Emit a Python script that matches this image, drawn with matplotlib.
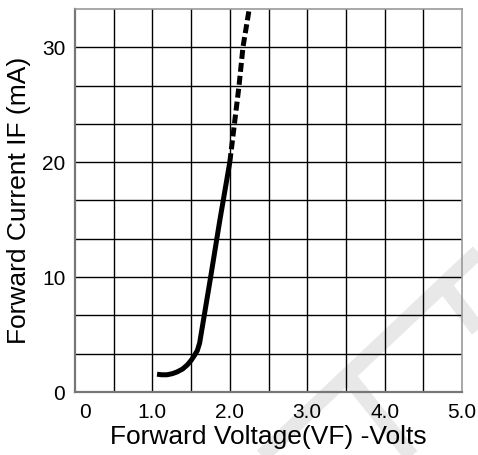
import numpy as np
import matplotlib.pyplot as plt
import matplotlib.transforms as mtransforms
from matplotlib.lines import Line2D

plt.rcParams['font.family'] = ['Liberation Sans', 'DejaVu Sans']

# forward curve (V, mA)
vf_solid = [1.06, 1.12, 1.19, 1.26, 1.32, 1.39, 1.45, 1.50, 1.54, 1.58, 1.61, 1.75, 1.87, 2.0]
if_solid = [1.55, 1.5, 1.5, 1.6, 1.75, 2.0, 2.35, 2.75, 3.15, 3.6, 4.25, 9.9, 14.9, 20.0]
vf_dash = [2.0, 2.12, 2.17, 2.25]
if_dash = [20.0, 26.7, 30.0, 33.3]

x_ticks = [0, 1, 2, 3, 4, 5]
x_labels = ["0", "1.0", "2.0", "3.0", "4.0", "5.0"]
y_ticks = [0, 10, 20, 30]

W, H = 478, 455
fig = plt.figure(figsize=(W/100, H/100), dpi=100)

# faint watermark strokes behind the chart (pixel coords of the page)
wm = [([478, 260], [252, 458]), ([440, 478], [280, 330]), ([343, 413], [370, 458])]
for xs, ys in wm:
    fig.add_artist(Line2D([x/W for x in xs], [1 - y/H for y in ys], color='#e8e8e8',
                          lw=11, solid_capstyle='butt', zorder=-5, transform=fig.transFigure))

ax = fig.add_axes([75/W, 1 - 392/H, 387/W, 383/H])
ax.patch.set_alpha(0)

ax.set_xlim(0, 5)
ax.set_ylim(0, 100/3)

# grid: 10 x 10 boxes
for v in np.arange(0.5, 5.0, 0.5):
    ax.axvline(v, color='black', lw=1.0, zorder=1)
for v in np.arange(1, 10) * 10/3:
    ax.axhline(v, color='black', lw=1.0, zorder=1)

ax.plot(vf_solid, if_solid, color='black', lw=3.6, solid_capstyle='butt', zorder=3)
ax.plot(vf_dash, if_dash, color='black', lw=3.6, dashes=(1.8, 0.8), zorder=3)

ax.set_xticks(x_ticks)
ax.set_xticklabels(x_labels)
ax.set_yticks(y_ticks)
ax.tick_params(length=0, labelsize=15)
ax.tick_params(axis='x', pad=8)
ax.tick_params(axis='y', pad=7)

# the "0" label sits a bit right of the axis corner
off = mtransforms.ScaledTranslation(10/100, 0, fig.dpi_scale_trans)
xl0 = ax.get_xticklabels()[0]
xl0.set_transform(xl0.get_transform() + off)

for s in ['left', 'bottom']:
    ax.spines[s].set_color('#777777')
    ax.spines[s].set_linewidth(1.6)
for s in ['top', 'right']:
    ax.spines[s].set_color('#999999')
    ax.spines[s].set_linewidth(1.2)

ax.set_xlabel("Forward Voltage(VF) -Volts", fontsize=19, labelpad=2)
ax.set_ylabel("Forward Current IF (mA)", fontsize=19, labelpad=8)

fig.savefig("out.png", dpi=100)
